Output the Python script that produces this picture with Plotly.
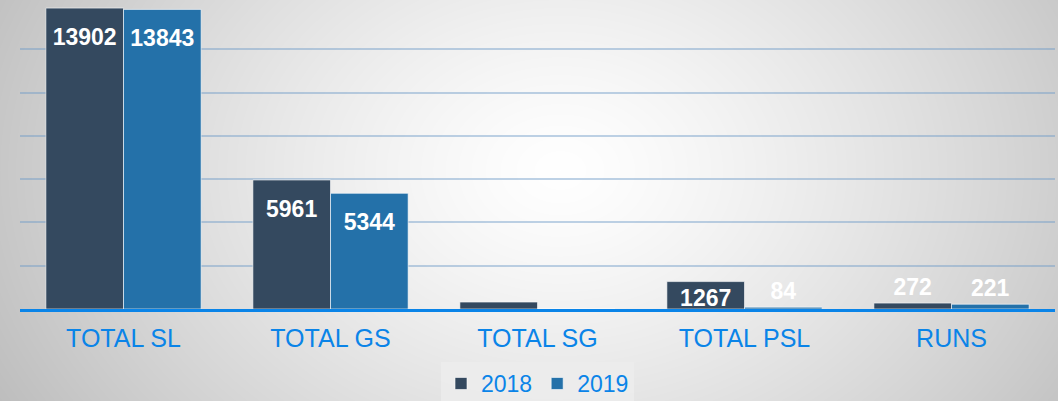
import base64, zlib, struct
import numpy as np
import plotly.graph_objects as go

categories = ["TOTAL SL", "TOTAL GS", "TOTAL SG", "TOTAL PSL", "RUNS"]
values_2018 = [13902, 5961, 320, 1267, 272]
values_2019 = [13843, 5344, 0, 84, 221]
labels_2018 = ["13902", "5961", "", "1267", "272"]
labels_2019 = ["13843", "5344", "", "84", "221"]
pos_2018 = ["inside", "inside", "none", "inside", "outside"]
pos_2019 = ["inside", "inside", "none", "outside", "outside"]

W, H = 1058, 401
LABEL_FONT = dict(color="white", size=23, family="Liberation Sans, Arial", weight="bold")


def gradient_png(w, h):
    yy, xx = np.mgrid[0:h, 0:w].astype(float)
    d = np.sqrt(((xx - 560) / 560.0) ** 2 + ((yy - 170) / 420.0) ** 2)
    v = np.clip(255 - 55 * d ** 1.3, 180, 255).astype(np.uint8)
    rgb = np.stack([v, v, v], axis=-1)
    raw = b"".join(b"\x00" + rgb[r].tobytes() for r in range(h))

    def chunk(t, data):
        c = struct.pack(">I", len(data)) + t + data
        return c + struct.pack(">I", zlib.crc32(t + data) & 0xFFFFFFFF)

    png = b"\x89PNG\r\n\x1a\n"
    png += chunk(b"IHDR", struct.pack(">IIBBBBB", w, h, 8, 2, 0, 0, 0))
    png += chunk(b"IDAT", zlib.compress(raw, 9))
    png += chunk(b"IEND", b"")
    return "data:image/png;base64," + base64.b64encode(png).decode()


def display_text(labels, values):
    # push labels of tall bars a little lower inside the bar
    out = []
    for lab, v in zip(labels, values):
        if lab and v > 3000:
            out.append("<span style='font-size:4px'>&nbsp;</span><br>" + lab)
        else:
            out.append(lab)
    return out


fig = go.Figure()
fig.add_trace(go.Bar(
    name="2018", x=categories, y=values_2018,
    marker=dict(color="#34495f", line=dict(color="rgba(255,255,255,0.6)", width=1)),
    text=display_text(labels_2018, values_2018), textposition=pos_2018,
    insidetextanchor="end", textfont=LABEL_FONT, outsidetextfont=LABEL_FONT,
    constraintext="none", cliponaxis=False, hoverinfo="x+y+name",
))
fig.add_trace(go.Bar(
    name="2019", x=categories, y=values_2019,
    marker=dict(color="#2471a9", line=dict(color="rgba(255,255,255,0.6)", width=1)),
    text=display_text(labels_2019, values_2019), textposition=pos_2019,
    insidetextanchor="end", textfont=LABEL_FONT, outsidetextfont=LABEL_FONT,
    constraintext="none", cliponaxis=False, hoverinfo="x+y+name",
))

fig.update_layout(
    width=W, height=H,
    margin=dict(l=20, r=3, t=6, b=92, autoexpand=False),
    paper_bgcolor="#d8d8d8",
    plot_bgcolor="rgba(0,0,0,0)",
    barmode="group", bargap=0.25, bargroupgap=0,
    font=dict(family="Liberation Sans, Arial", color="#0a84e8"),
    images=[dict(source=gradient_png(W, H), xref="paper", yref="paper",
                 x=-20 / 1035, y=1 + 6 / 303, sizex=W / 1035, sizey=H / 303,
                 xanchor="left", yanchor="top", sizing="stretch", layer="below")],
    showlegend=True,
    legend=dict(orientation="h", x=0.5, xanchor="center", y=-0.175, yanchor="top",
                bgcolor="rgba(236,236,236,0.85)", font=dict(size=23, color="#0a84e8"),
                itemwidth=30, traceorder="normal"),
    xaxis=dict(showgrid=False, tickfont=dict(size=25, color="#0a84e8"),
               showline=True, linecolor="#0a84e8", linewidth=3, ticks="",
               ticklabelstandoff=5, zeroline=False),
    yaxis=dict(range=[0, 14000], dtick=2000, showticklabels=False,
               gridcolor="rgba(110,155,200,0.45)", gridwidth=1.5,
               zeroline=False, showline=False),
)

fig.write_html("out.html", config={"displayModeBar": False},
               post_script="document.body.style.margin='0';document.body.style.overflow='hidden';")
